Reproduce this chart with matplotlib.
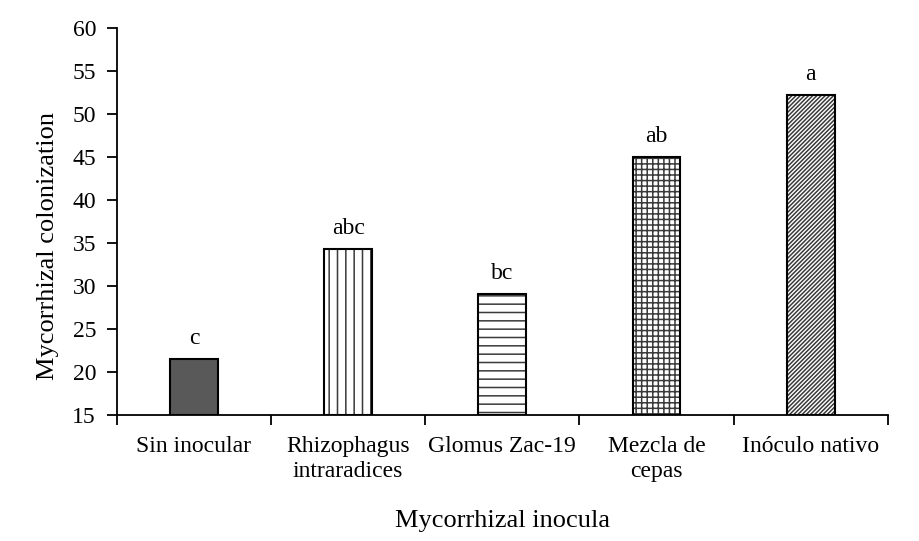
import matplotlib
matplotlib.use("Agg")
import matplotlib.pyplot as plt
import numpy as np

categories = ["Sin inocular", "Rhizophagus\nintraradices", "Glomus Zac-19", "Mezcla de\ncepas", "Inóculo nativo"]
values = [21.5, 34.3, 29.1, 45.0, 52.2]
letters = ["c", "abc", "bc", "ab", "a"]
hatches = [None, "||", "--", "+++", "////////"]
fills = ["#595959", "white", "white", "white", "white"]

plt.rcParams['font.family'] = ['Liberation Serif', 'DejaVu Serif']
plt.rcParams['hatch.linewidth'] = 1.1

fig = plt.figure(figsize=(9.2, 5.41), dpi=100)
ax = fig.add_axes([0.127, 0.233, 0.838, 0.716])

x = np.arange(len(categories))
base = 15
heights = [v - base for v in values]
for i in range(len(categories)):
    ax.bar(x[i], heights[i], bottom=base, width=0.31, color=fills[i],
           hatch=hatches[i], edgecolor="#3a3a3a", linewidth=0, zorder=2)
    ax.bar(x[i], heights[i], bottom=base, width=0.31, fill=False,
           edgecolor="black", linewidth=1.5, zorder=3)
    ax.annotate(letters[i], (x[i], values[i]), xytext=(0, 7), textcoords="offset points",
                ha="center", va="bottom", fontsize=17)

ax.set_xlim(-0.5, 4.5)
ax.set_ylim(15, 60)
ax.set_yticks(np.arange(15, 61, 5))
ax.set_xticks(np.arange(-0.5, 4.6, 1.0))
ax.set_xticklabels([])
ax.set_xticks(x, minor=True)
ax.set_xticklabels(categories, minor=True, fontsize=17, linespacing=1.25)
ax.tick_params(axis="x", which="minor", length=0, pad=15)
ax.tick_params(axis="x", which="major", direction="out", length=7, width=1.3)
ax.tick_params(axis="y", direction="out", length=7, width=1.3, labelsize=17, pad=8)

for s in ["top", "right"]:
    ax.spines[s].set_visible(False)
for s in ["left", "bottom"]:
    ax.spines[s].set_linewidth(1.3)

ax.set_xlabel("Mycorrhizal inocula", fontsize=19, labelpad=20)
ax.set_ylabel("Mycorrhizal colonization", fontsize=19)
ax.yaxis.set_label_coords(-0.075, 0.436)

fig.savefig("out.png", dpi=100)
